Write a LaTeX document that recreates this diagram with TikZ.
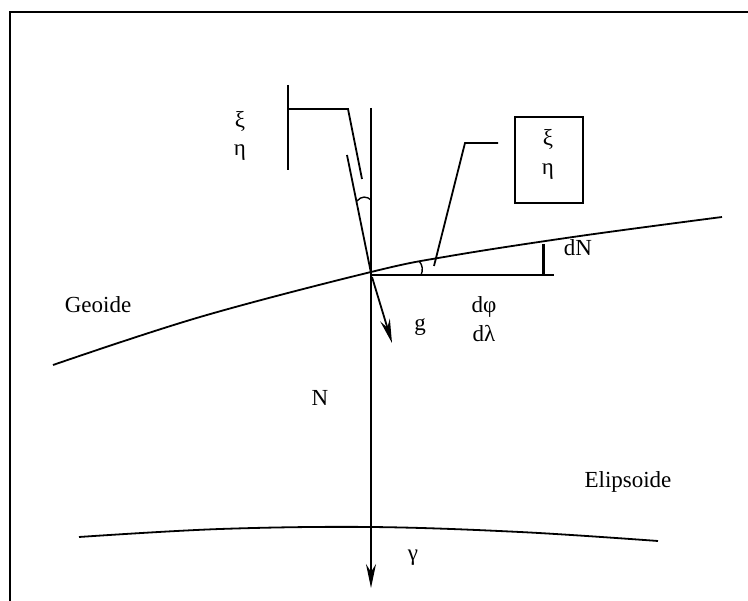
\documentclass[tikz,border=0pt]{standalone}
\usepackage{fontspec}
\setmainfont{Liberation Serif}
\usetikzlibrary{arrows.meta}
\begin{document}
\begin{tikzpicture}[x=1pt,y=-1pt,
  ln/.style={line width=1.8pt},
  lbl/.style={inner sep=0pt,font=\fontsize{23}{27}\selectfont},
  arr/.style={ln,-{Stealth[length=24pt,width=10pt,inset=8pt]}}]
\useasboundingbox (0,0) rectangle (748,601);
% frame (only top and left visible)
\draw[line width=2.2pt] (10,601) -- (10,12) -- (748,12);
% named points
\coordinate (P) at (371,273);
\coordinate (vtop) at (371,108);
\coordinate (vbot) at (371,588);
\coordinate (dtop) at (347,155);
\coordinate (gs) at (372,277);
\coordinate (gt) at (392,343);
\coordinate (hend) at (554,275);
\coordinate (hP) at (371,275);
% vertical normal with gamma arrow
\draw[arr] (vtop) -- (vbot);
% deflected plumb line
\draw[ln] (dtop) -- (P);
\draw[arr] (gs) -- (gt);
% geoid
\draw[ln] plot[smooth,tension=0.6] coordinates {(53,365) (200,317) (371,272) (450,256) (580,236) (722,217)};
% ellipsoid
\draw[ln] plot[smooth,tension=0.6] coordinates {(79,537) (220,529) (371,527) (520,532) (658,541)};
% horizontal line and dN tick
\draw[ln] (hP) -- (hend);
\draw[line width=3pt] (543,244) -- (543,275);
% angle arcs
\draw[line width=1.4pt] (357,201) .. controls (361,196) and (367,196) .. (371,200);
\draw[line width=1.4pt] (419,261) .. controls (423,265) and (423,271) .. (421,275);
% left bracket xi eta
\coordinate (b1) at (288,85);
\coordinate (b2) at (288,170);
\coordinate (b3) at (288,109);
\coordinate (b4) at (348,109);
\coordinate (b5) at (362,179);
\draw[ln] (b1) -- (b2);
\draw[ln] (b3) -- (b4) -- (b5);
\node[lbl] (xi1) at (240,122) {ξ};
\node[lbl] (eta1) at (240,153) {η};
% box xi eta with leader
\node[draw,line width=1.5pt,minimum width=68pt,minimum height=86pt,inner sep=0pt] (box) at (549,160) {};
\node[lbl] (xi2) at (548,140) {ξ};
\node[lbl] (eta2) at (548,172) {η};
\coordinate (l1) at (498,143);
\coordinate (l2) at (465,143);
\coordinate (l3) at (434,266);
\draw[ln] (l1) -- (l2) -- (l3);
% labels
\node[lbl] (geo) at (98,305) {Geoide};
\node[lbl] (g) at (420,327) {g};
\node[lbl] (dphi) at (484,307) {dφ};
\node[lbl] (dlam) at (484,334) {dλ};
\node[lbl] (dN) at (578,248) {dN};
\node[lbl] (N) at (320,398) {N};
\node[lbl] (eli) at (628,482) {Elipsoide};
\node[lbl] (gam) at (413,558) {γ};
\end{tikzpicture}
\end{document}
